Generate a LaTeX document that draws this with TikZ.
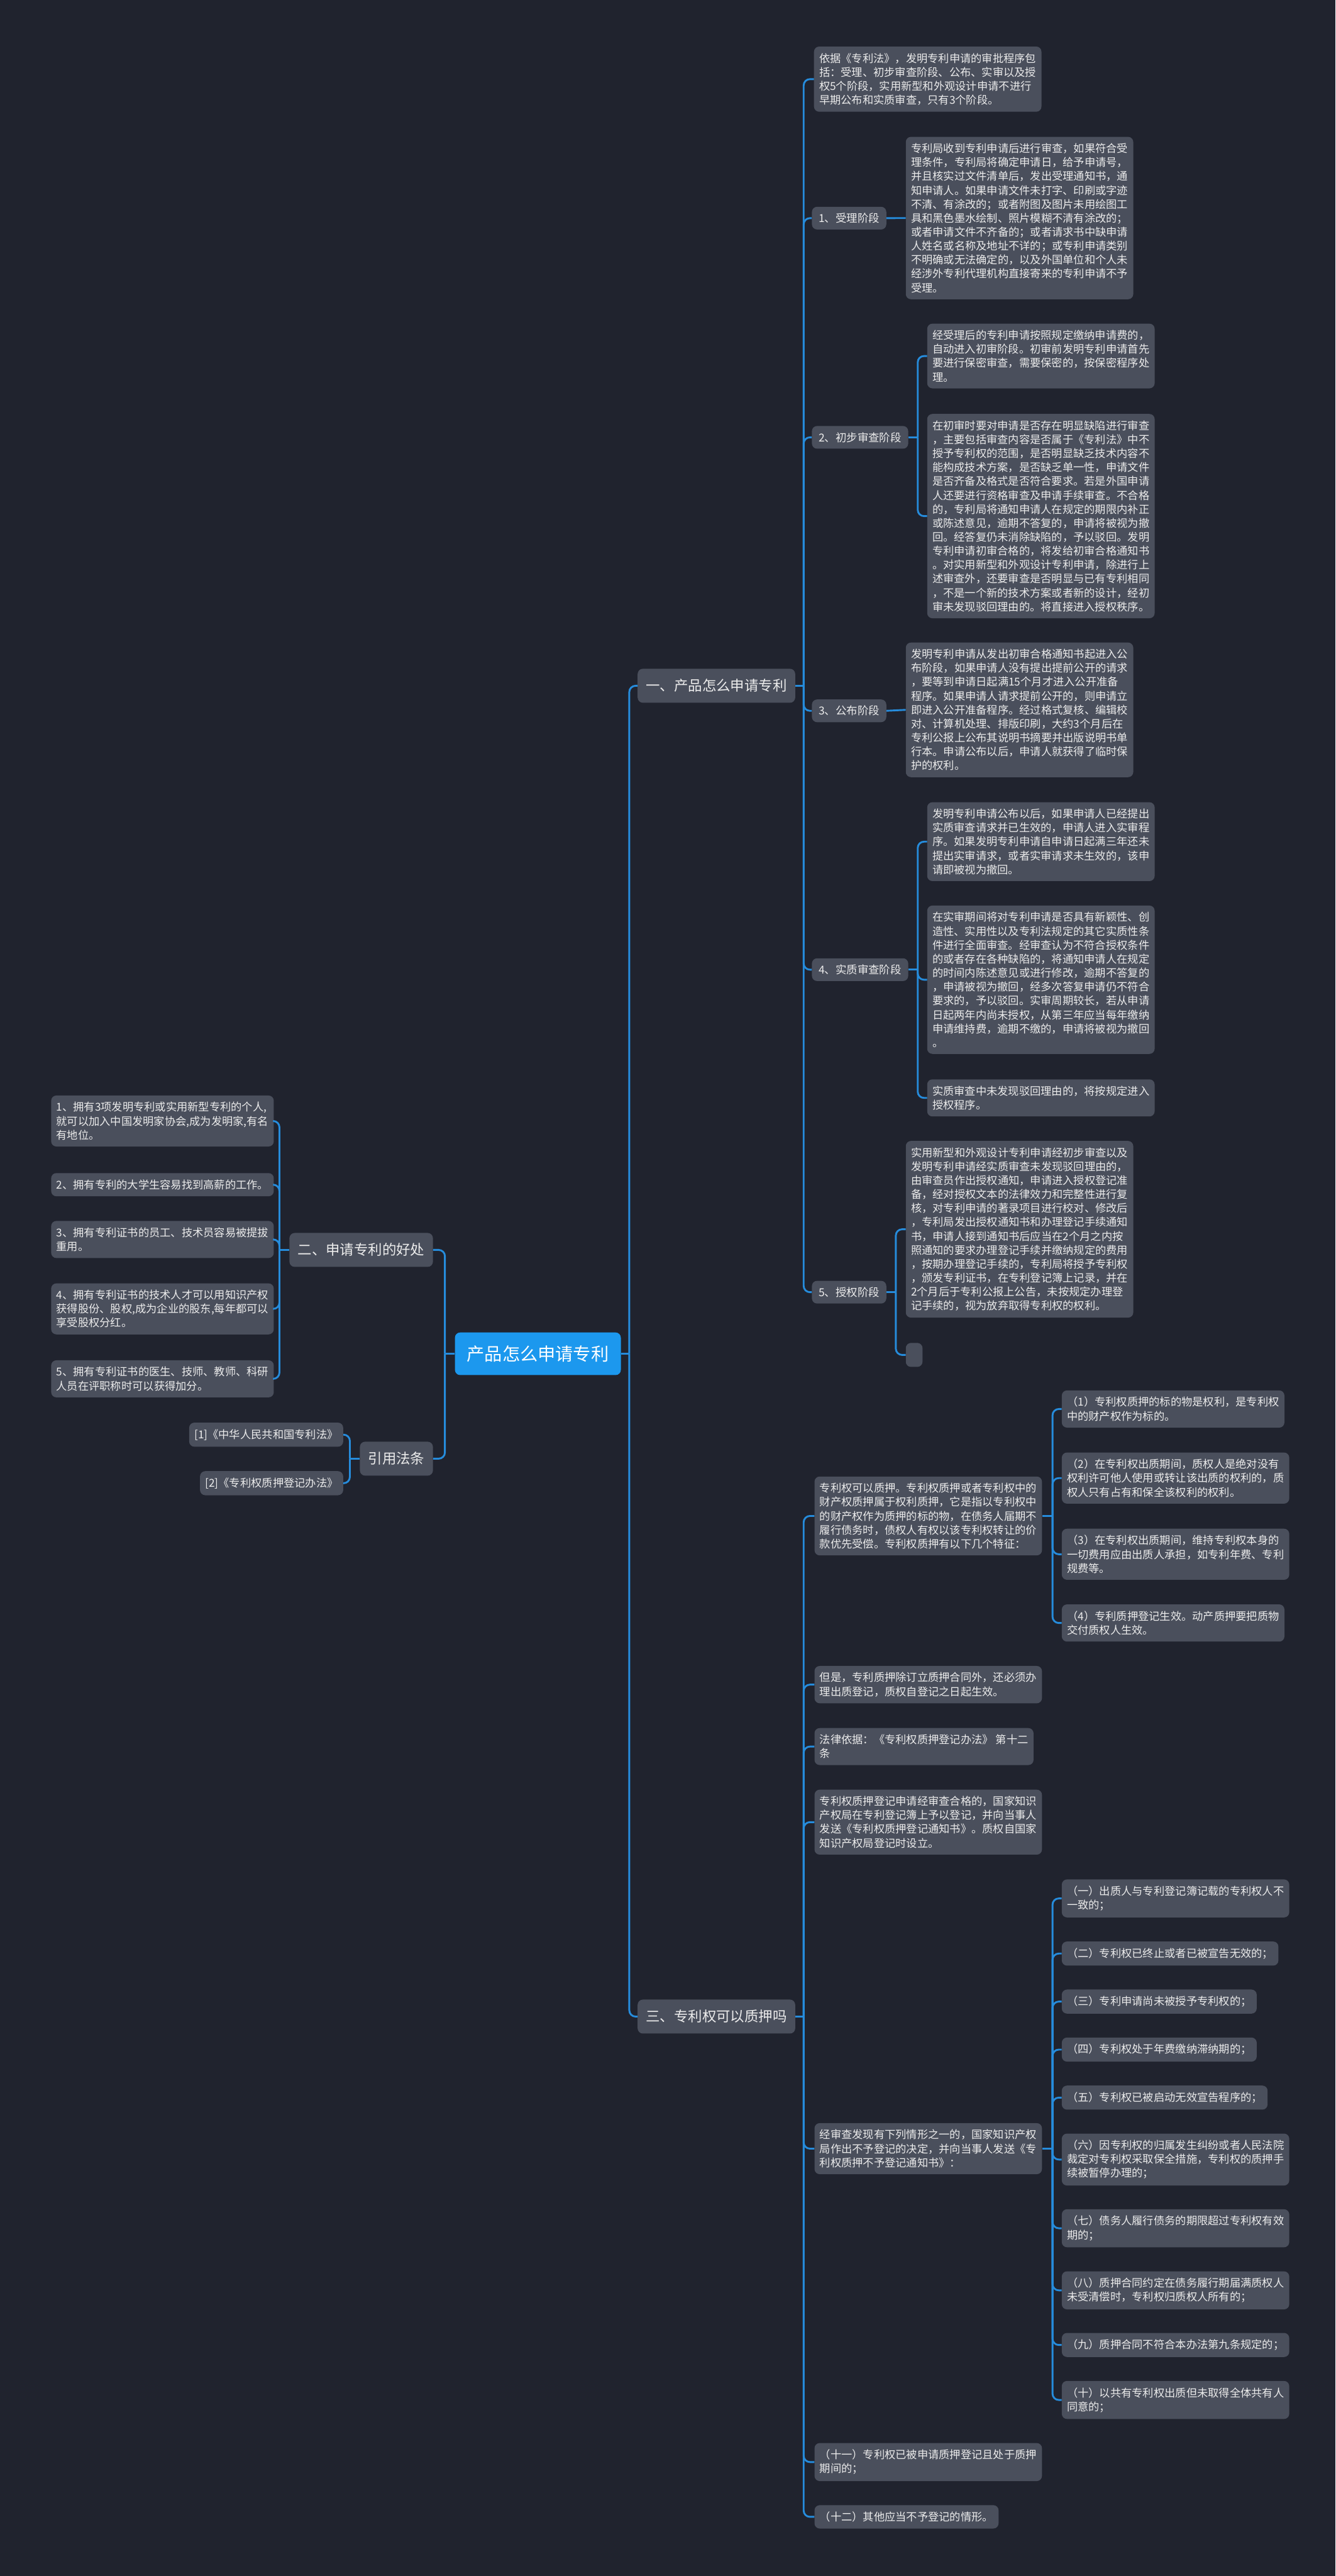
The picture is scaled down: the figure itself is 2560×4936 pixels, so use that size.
\documentclass[tikz,border=0pt]{standalone}
\usepackage{fontspec}
\setmainfont{Noto Sans CJK SC}
\definecolor{bgc}{RGB}{32,35,46}
\definecolor{nodefill}{RGB}{74,79,92}
\definecolor{linec}{RGB}{38,140,220}
\definecolor{rootc}{RGB}{28,152,238}
\definecolor{txt}{RGB}{236,236,236}
\begin{document}
\begin{tikzpicture}[x=1pt,y=-1pt,
  box/.style={fill=nodefill, rounded corners=10pt, text=txt, align=left, inner xsep=10pt, inner ysep=12.5pt, font=\fontsize{20.8}{26.7}\selectfont},
  lab/.style={box, inner xsep=13pt, inner ysep=12pt, font=\fontsize{21}{26}\selectfont},
  lvl/.style={box, inner xsep=16pt, inner ysep=20pt, font=\fontsize{27}{32}\selectfont},
  rootnode/.style={fill=rootc, rounded corners=10pt, text=white, inner xsep=23pt, inner ysep=25pt, font=\fontsize{34}{40}\selectfont},
  conn/.style={draw=linec, line width=3.5pt, rounded corners=12pt},
]
\fill[bgc] (0,0) rectangle (2560,4936);
\useasboundingbox (0,0) rectangle (2560,4936);

% root and level 1
\node[rootnode] (root) at (1031,2594) {产品怎么申请专利};
\node[lvl, anchor=west] (s1) at (1222,1314) {一、产品怎么申请专利};
\node[lvl, anchor=east] (s2) at (830,2395) {二、申请专利的好处};
\node[lvl, anchor=east] (s4) at (830,2795) {引用法条};
\node[lvl, anchor=west] (s3) at (1222,3864) {三、专利权可以质押吗};

% section 1
\node[box, anchor=north west] (a0) at (1560,89) {依据《专利法》，发明专利申请的审批程序包\\括：受理、初步审查阶段、公布、实审以及授\\权5个阶段，实用新型和外观设计申请不进行\\早期公布和实质审查，只有3个阶段。};
\node[lab, anchor=west] (l1) at (1556,418) {1、受理阶段};
\node[lab, anchor=west] (l2) at (1556,838) {2、初步审查阶段};
\node[lab, anchor=west] (l3) at (1556,1362) {3、公布阶段};
\node[lab, anchor=west] (l4) at (1556,1858) {4、实质审查阶段};
\node[lab, anchor=west] (l5) at (1556,2476) {5、授权阶段};

\node[box, anchor=north west] (l1a) at (1736,262) {专利局收到专利申请后进行审查，如果符合受\\理条件，专利局将确定申请日，给予申请号，\\并且核实过文件清单后，发出受理通知书，通\\知申请人。如果申请文件未打字、印刷或字迹\\不清、有涂改的；或者附图及图片未用绘图工\\具和黑色墨水绘制、照片模糊不清有涂改的；\\或者申请文件不齐备的；或者请求书中缺申请\\人姓名或名称及地址不详的；或专利申请类别\\不明确或无法确定的，以及外国单位和个人未\\经涉外专利代理机构直接寄来的专利申请不予\\受理。};

\node[box, anchor=north west] (l2a) at (1777,620) {经受理后的专利申请按照规定缴纳申请费的，\\自动进入初审阶段。初审前发明专利申请首先\\要进行保密审查，需要保密的，按保密程序处\\理。};
\node[box, anchor=north west] (l2b) at (1777,793) {在初审时要对申请是否存在明显缺陷进行审查\\，主要包括审查内容是否属于《专利法》中不\\授予专利权的范围，是否明显缺乏技术内容不\\能构成技术方案，是否缺乏单一性，申请文件\\是否齐备及格式是否符合要求。若是外国申请\\人还要进行资格审查及申请手续审查。不合格\\的，专利局将通知申请人在规定的期限内补正\\或陈述意见，逾期不答复的，申请将被视为撤\\回。经答复仍未消除缺陷的，予以驳回。发明\\专利申请初审合格的，将发给初审合格通知书\\。对实用新型和外观设计专利申请，除进行上\\述审查外，还要审查是否明显与已有专利相同\\，不是一个新的技术方案或者新的设计，经初\\审未发现驳回理由的。将直接进入授权秩序。};

\node[box, anchor=north west] (l3a) at (1736,1231) {发明专利申请从发出初审合格通知书起进入公\\布阶段，如果申请人没有提出提前公开的请求\\，要等到申请日起满15个月才进入公开准备\\程序。如果申请人请求提前公开的，则申请立\\即进入公开准备程序。经过格式复核、编辑校\\对、计算机处理、排版印刷，大约3个月后在\\专利公报上公布其说明书摘要并出版说明书单\\行本。申请公布以后，申请人就获得了临时保\\护的权利。};

\node[box, anchor=north west] (l4a) at (1777,1537) {发明专利申请公布以后，如果申请人已经提出\\实质审查请求并已生效的，申请人进入实审程\\序。如果发明专利申请自申请日起满三年还未\\提出实审请求，或者实审请求未生效的，该申\\请即被视为撤回。};
\node[box, anchor=north west] (l4b) at (1777,1735) {在实审期间将对专利申请是否具有新颖性、创\\造性、实用性以及专利法规定的其它实质性条\\件进行全面审查。经审查认为不符合授权条件\\的或者存在各种缺陷的，将通知申请人在规定\\的时间内陈述意见或进行修改，逾期不答复的\\，申请被视为撤回，经多次答复申请仍不符合\\要求的，予以驳回。实审周期较长，若从申请\\日起两年内尚未授权，从第三年应当每年缴纳\\申请维持费，逾期不缴的，申请将被视为撤回\\。};
\node[box, anchor=north west] (l4c) at (1777,2068) {实质审查中未发现驳回理由的，将按规定进入\\授权程序。};

\node[box, anchor=north west] (l5a) at (1736,2186) {实用新型和外观设计专利申请经初步审查以及\\发明专利申请经实质审查未发现驳回理由的，\\由审查员作出授权通知，申请进入授权登记准\\备，经对授权文本的法律效力和完整性进行复\\核，对专利申请的著录项目进行校对、修改后\\，专利局发出授权通知书和办理登记手续通知\\书，申请人接到通知书后应当在2个月之内按\\照通知的要求办理登记手续并缴纳规定的费用\\，按期办理登记手续的，专利局将授予专利权\\，颁发专利证书，在专利登记簿上记录，并在\\2个月后于专利公报上公告，未按规定办理登\\记手续的，视为放弃取得专利权的权利。};
\node[box, anchor=north west, inner sep=0pt, minimum width=32pt, minimum height=46pt] (l5b) at (1736,2573) {};

% section 2
\node[box, anchor=east] (b1) at (525,2148) {1、拥有3项发明专利或实用新型专利的个人,\\就可以加入中国发明家协会,成为发明家,有名\\有地位。};
\node[box, anchor=east] (b2) at (525,2270) {2、拥有专利的大学生容易找到高薪的工作。};
\node[box, anchor=east] (b3) at (525,2375) {3、拥有专利证书的员工、技术员容易被提拔\\重用。};
\node[box, anchor=east] (b4) at (525,2508) {4、拥有专利证书的技术人才可以用知识产权\\获得股份、股权,成为企业的股东,每年都可以\\享受股权分红。};
\node[box, anchor=east] (b5) at (525,2642) {5、拥有专利证书的医生、技师、教师、科研\\人员在评职称时可以获得加分。};
\node[box, anchor=east] (r1) at (658,2749) {[1]《中华人民共和国专利法》};
\node[box, anchor=east] (r2) at (658,2842) {[2]《专利权质押登记办法》};

% section 3
\node[box, anchor=north west] (p1) at (1561,2829) {专利权可以质押。专利权质押或者专利权中的\\财产权质押属于权利质押，它是指以专利权中\\的财产权作为质押的标的物，在债务人届期不\\履行债务时，债权人有权以该专利权转让的价\\款优先受偿。专利权质押有以下几个特征：};
\node[box, anchor=north west] (p2) at (1561,3192) {但是，专利质押除订立质押合同外，还必须办\\理出质登记，质权自登记之日起生效。};
\node[box, anchor=north west] (p3) at (1561,3311) {法律依据：《专利权质押登记办法》 第十二\\条};
\node[box, anchor=north west] (p4) at (1561,3429) {专利权质押登记申请经审查合格的，国家知识\\产权局在专利登记簿上予以登记，并向当事人\\发送《专利权质押登记通知书》。质权自国家\\知识产权局登记时设立。};
\node[box, anchor=north west] (p5) at (1561,4068) {经审查发现有下列情形之一的，国家知识产权\\局作出不予登记的决定，并向当事人发送《专\\利权质押不予登记通知书》：};
\node[box, anchor=north west] (p6) at (1561,4681) {（十一）专利权已被申请质押登记且处于质押\\期间的；};
\node[box, anchor=north west] (p7) at (1561,4800) {（十二）其他应当不予登记的情形。};

\node[box, anchor=north west] (q1) at (2035,2664) {（1）专利权质押的标的物是权利，是专利权\\中的财产权作为标的。};
\node[box, anchor=north west] (q2) at (2035,2783) {（2）在专利权出质期间，质权人是绝对没有\\权利许可他人使用或转让该出质的权利的，质\\权人只有占有和保全该权利的权利。};
\node[box, anchor=north west] (q3) at (2035,2929) {（3）在专利权出质期间，维持专利权本身的\\一切费用应由出质人承担，如专利年费、专利\\规费等。};
\node[box, anchor=north west] (q4) at (2035,3074) {（4）专利质押登记生效。动产质押要把质物\\交付质权人生效。};

\node[box, anchor=north west] (c1) at (2035,3601) {（一）出质人与专利登记簿记载的专利权人不\\一致的；};
\node[box, anchor=north west] (c2) at (2035,3720) {（二）专利权已终止或者已被宣告无效的；};
\node[box, anchor=north west] (c3) at (2035,3812) {（三）专利申请尚未被授予专利权的；};
\node[box, anchor=north west] (c4) at (2035,3904) {（四）专利权处于年费缴纳滞纳期的；};
\node[box, anchor=north west] (c5) at (2035,3996) {（五）专利权已被启动无效宣告程序的；};
\node[box, anchor=north west] (c6) at (2035,4088) {（六）因专利权的归属发生纠纷或者人民法院\\裁定对专利权采取保全措施，专利权的质押手\\续被暂停办理的；};
\node[box, anchor=north west] (c7) at (2035,4233) {（七）债务人履行债务的期限超过专利权有效\\期的；};
\node[box, anchor=north west] (c8) at (2035,4352) {（八）质押合同约定在债务履行期届满质权人\\未受清偿时，专利权归质权人所有的；};
\node[box, anchor=north west] (c9) at (2035,4470) {（九）质押合同不符合本办法第九条规定的；};
\node[box, anchor=north west] (c10) at (2035,4562) {（十）以共有专利权出质但未取得全体共有人\\同意的；};

% connectors: root
\draw[conn] (root.east) -- ([xshift=16pt]root.east) coordinate (rs);
\foreach \n in {s1,s3} \draw[conn] (rs) |- (\n.west);
\draw[conn] (root.west) -- ([xshift=-19pt]root.west) coordinate (ls);
\foreach \n in {s2,s4} \draw[conn] (ls) |- (\n.east);

% section 1
\draw[conn] (s1.east) -- ([xshift=16pt]s1.east) coordinate (s1s);
\foreach \n in {a0,l1,l2,l3,l4,l5} \draw[conn] (s1s) |- (\n.west);
\draw[conn] (l1.east) -- (l1a.west);
\draw[conn] (l2.east) -- ([xshift=18pt]l2.east) coordinate (l2s);
\foreach \n in {l2a,l2b} \draw[conn] (l2s) |- (\n.west);
\draw[conn] (l3.east) -- (l3a.west);
\draw[conn] (l4.east) -- ([xshift=18pt]l4.east) coordinate (l4s);
\foreach \n in {l4a,l4b,l4c} \draw[conn] (l4s) |- (\n.west);
\draw[conn] (l5.east) -- ([xshift=18pt]l5.east) coordinate (l5s);
\foreach \n in {l5a,l5b} \draw[conn] (l5s) |- (\n.west);

% section 2
\draw[conn] (s2.west) -- ([xshift=-19pt]s2.west) coordinate (s2s);
\foreach \n in {b1,b2,b3,b4,b5} \draw[conn] (s2s) |- (\n.east);
\draw[conn] (s4.west) -- ([xshift=-19pt]s4.west) coordinate (s4s);
\foreach \n in {r1,r2} \draw[conn] (s4s) |- (\n.east);

% section 3
\draw[conn] (s3.east) -- ([xshift=16pt]s3.east) coordinate (s3s);
\foreach \n in {p1,p2,p3,p4,p5,p6,p7} \draw[conn] (s3s) |- (\n.west);
\draw[conn] (p1.east) -- ([xshift=20pt]p1.east) coordinate (p1s);
\foreach \n in {q1,q2,q3,q4} \draw[conn] (p1s) |- (\n.west);
\draw[conn] (p5.east) -- ([xshift=20pt]p5.east) coordinate (p5s);
\foreach \n in {c1,c2,c3,c4,c5,c6,c7,c8,c9,c10} \draw[conn] (p5s) |- (\n.west);
\end{tikzpicture}
\end{document}
